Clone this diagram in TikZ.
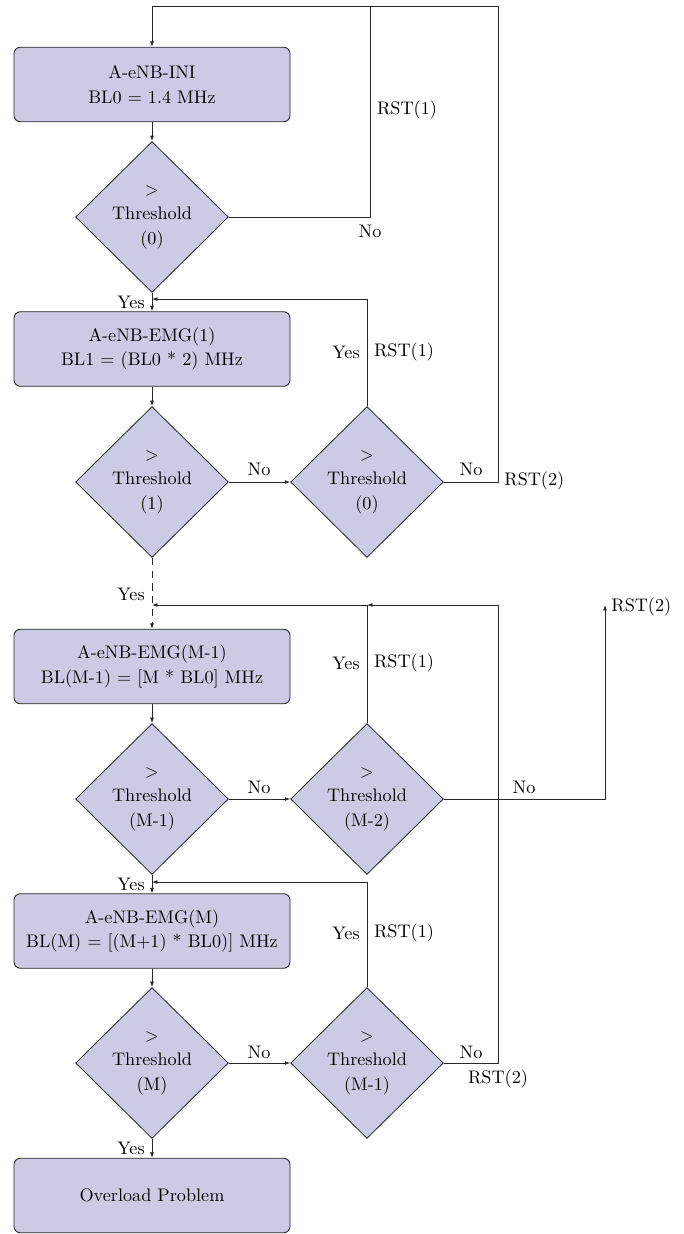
\documentclass[tikz,border=0pt]{standalone}
\usetikzlibrary{shapes.geometric,arrows.meta}
\definecolor{lav}{RGB}{204,203,230}
\definecolor{ln}{RGB}{40,40,40}
\begin{document}
\begin{tikzpicture}[x=0.55pt,y=-0.55pt,
  every node/.style={font=\fontsize{10}{13.5}\selectfont},
  box/.style={rectangle,rounded corners=3.5pt,draw=ln,line width=0.5pt,fill=lav,minimum width=151.8pt,minimum height=41pt,align=center,inner sep=0pt},
  dia/.style={diamond,draw=ln,line width=0.45pt,fill=lav,minimum width=84pt,minimum height=83pt,inner sep=0pt,align=center},
  conn/.style={draw=ln,line width=0.45pt},
  arr/.style={conn,-{Latex[length=3pt,width=2.2pt]}},
  lbl/.style={inner sep=0pt}]
\useasboundingbox (0,0) rectangle (683,1234);
% nodes
\node[box] (b1) at (152,84.5) {A-eNB-INI\\BL0 = 1.4 MHz};
\node[dia] (d0) at (152,217) {$>$\\Threshold\\(0)};
\node[box] (b2) at (152,349) {A-eNB-EMG(1)\\BL1 = (BL0 * 2) MHz};
\node[dia] (d1) at (152,482) {$>$\\Threshold\\(1)};
\node[dia] (d0b) at (367,482) {$>$\\Threshold\\(0)};
\node[box] (b3) at (152,666.5) {A-eNB-EMG(M-1)\\BL(M-1) = [M * BL0] MHz};
\node[dia] (dM1) at (152,799) {$>$\\Threshold\\(M-1)};
\node[dia] (dM2) at (367,799) {$>$\\Threshold\\(M-2)};
\node[box] (b4) at (152,931) {A-eNB-EMG(M)\\BL(M) = [(M+1) * BL0)] MHz};
\node[dia] (dM) at (152,1063) {$>$\\Threshold\\(M)};
\node[dia] (dM1b) at (367,1063) {$>$\\Threshold\\(M-1)};
\node[box] (b5) at (152,1195.5) {Overload Problem};
% coordinates
\coordinate (tl) at (152,6);
\coordinate (tr1) at (370,6);
\coordinate (tr2) at (498,6);
\coordinate (c1) at (370,217);
\coordinate (c2) at (498,482);
\coordinate (j1) at (152,299);
\coordinate (k1) at (367,299);
\coordinate (j2) at (152,605);
\coordinate (k2) at (367,605);
\coordinate (m2) at (498,605);
\coordinate (c3) at (498,1063);
\coordinate (r1) at (605,799);
\coordinate (r2) at (605,605);
\coordinate (j3) at (152,882);
\coordinate (k3) at (367,882);
% connectors
\draw[arr] (tr2) -- (tl) -- (b1.north);
\draw[conn] (d0.east) -- (c1) -- (tr1);
\draw[conn] (d0b.east) -- (c2) -- (tr2);
\draw[arr] (b1.south) -- (d0.north);
\draw[arr] (d0.south) -- (b2.north);
\draw[arr] (d0b.north) -- (k1) -- (j1);
\draw[arr] (b2.south) -- (d1.north);
\draw[arr] (d1.east) -- (d0b.west);
\draw[arr,dashed,dash pattern=on 4pt off 3pt] (d1.south) -- (b3.north);
\draw[arr] (dM2.north) -- (k2) -- (j2);
\draw[arr] (dM1b.east) -- (c3) -- (m2) -- (k2);
\draw[arr] (b3.south) -- (dM1.north);
\draw[arr] (dM1.east) -- (dM2.west);
\draw[arr] (dM2.east) -- (r1) -- (r2);
\draw[arr] (dM1.south) -- (b4.north);
\draw[arr] (dM1b.north) -- (k3) -- (j3);
\draw[arr] (b4.south) -- (dM.north);
\draw[arr] (dM.east) -- (dM1b.west);
\draw[arr] (dM.south) -- (b5.north);
% labels
\node[lbl] (l1) at (370,231) {No};
\node[lbl] (l2) at (407,110) {RST(1)};
\node[lbl] (l3) at (131,302) {Yes};
\node[lbl] (l4) at (259,469) {No};
\node[lbl] (l5) at (471,469) {No};
\node[lbl,anchor=west] (l6) at (504,481) {RST(2)};
\node[lbl] (l7) at (346,352) {Yes};
\node[lbl] (l8) at (404,352) {RST(1)};
\node[lbl] (l9) at (131,594) {Yes};
\node[lbl] (l10) at (346,663) {Yes};
\node[lbl] (l11) at (404,663) {RST(1)};
\node[lbl] (l12) at (259,787) {No};
\node[lbl] (l13) at (524,787) {No};
\node[lbl,anchor=west] (l14) at (611,607) {RST(2)};
\node[lbl] (l15) at (131,884) {Yes};
\node[lbl] (l16) at (346,933) {Yes};
\node[lbl] (l17) at (404,933) {RST(1)};
\node[lbl] (l18) at (259,1052) {No};
\node[lbl] (l19) at (471,1052) {No};
\node[lbl] (l20) at (498,1079) {RST(2)};
\node[lbl] (l21) at (131,1148) {Yes};
\end{tikzpicture}
\end{document}
